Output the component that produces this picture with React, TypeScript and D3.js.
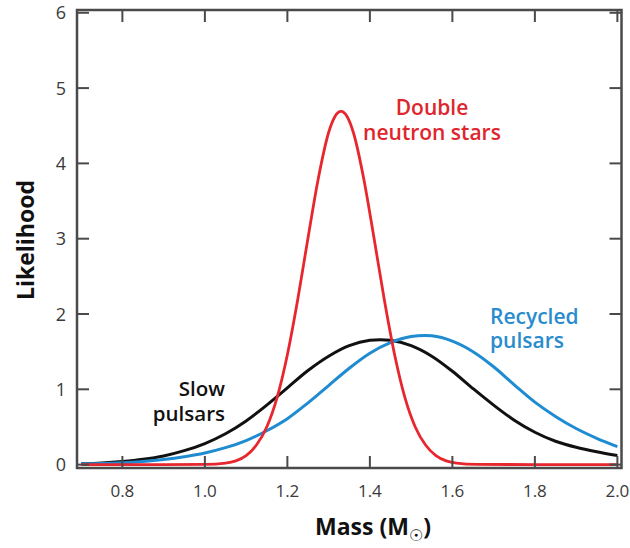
import React from "react";
import * as d3 from "d3";

// Pulsar mass distributions (likelihood vs. mass in solar masses)
const massGrid = [
  0.7, 0.75, 0.8, 0.85, 0.9, 0.95, 1.0, 1.05, 1.1, 1.15, 1.2, 1.25, 1.3, 1.35,
  1.4, 1.45, 1.5, 1.55, 1.6, 1.65, 1.7, 1.75, 1.8, 1.85, 1.9, 1.95, 2.0,
];
const slowPulsars = [
  0.01, 0.02, 0.04, 0.07, 0.115, 0.185, 0.28, 0.41, 0.58, 0.79, 1.02, 1.25,
  1.44, 1.58, 1.65, 1.65, 1.58, 1.44, 1.24, 1.01, 0.79, 0.59, 0.43, 0.31, 0.23,
  0.17, 0.12,
];
const recycledPulsars = [
  0.01, 0.015, 0.025, 0.042, 0.068, 0.105, 0.155, 0.225, 0.32, 0.45, 0.61,
  0.82, 1.05, 1.28, 1.48, 1.62, 1.7, 1.71, 1.64, 1.5, 1.3, 1.06, 0.83, 0.64,
  0.48, 0.35, 0.24,
];
const dnsMass = [
  0.7, 0.9, 1.0, 1.05, 1.075, 1.1, 1.125, 1.15, 1.175, 1.2, 1.225, 1.25, 1.275,
  1.3, 1.315, 1.33, 1.345, 1.36, 1.385, 1.41, 1.435, 1.46, 1.485, 1.51, 1.535,
  1.56, 1.585, 1.61, 1.66, 1.8, 2.0,
];
const doubleNeutronStars = [
  0, 0, 0.003, 0.02, 0.05, 0.12, 0.26, 0.5, 0.89, 1.46, 2.19, 3.01, 3.8, 4.41,
  4.62, 4.69, 4.62, 4.41, 3.8, 3.01, 2.19, 1.46, 0.89, 0.5, 0.26, 0.12, 0.05,
  0.02, 0.003, 0, 0,
];

const xTicks = [0.8, 1.0, 1.2, 1.4, 1.6, 1.8, 2.0];
const yTicks = [0, 1, 2, 3, 4, 5, 6];

const W = 630;
const H = 548;
const left = 77;
const right = 621.5;
const top = 10;
const bottom = 468;

const x = d3.scaleLinear().domain([0.69, 2.01]).range([left, right]);
const y = d3.scaleLinear().domain([-0.045, 6.037]).range([bottom, top]);

const axisColor = "#4a4a4a";
const tickLen = 12;

type Pt = [number, number];
const smoothLine = d3
  .line<Pt>()
  .x((d) => x(d[0]))
  .y((d) => y(d[1]))
  .curve(d3.curveCatmullRom.alpha(0.5));
const peakLine = d3
  .line<Pt>()
  .x((d) => x(d[0]))
  .y((d) => y(d[1]))
  .curve(d3.curveMonotoneX);

const zip = (xs: number[], ys: number[]): Pt[] => xs.map((v, i) => [v, ys[i]]);

export default function App() {
  const font = "'Open Sans', 'DejaVu Sans', sans-serif";
  return (
    <svg
      width={W}
      height={H}
      style={{ position: "absolute", left: 0, top: 0, background: "#fff" }}
      fontFamily={font}
    >
      <rect width={W} height={H} fill="#fff" />

      {/* curves */}
      <path d={smoothLine(zip(massGrid, slowPulsars)) ?? ""} fill="none" stroke="#111" strokeWidth={3} />
      <path d={smoothLine(zip(massGrid, recycledPulsars)) ?? ""} fill="none" stroke="#1f8bd0" strokeWidth={3} />
      <path d={peakLine(zip(dnsMass, doubleNeutronStars)) ?? ""} fill="none" stroke="#e8262e" strokeWidth={2.8} />

      {/* frame */}
      <rect
        x={left}
        y={top}
        width={right - left}
        height={bottom - top}
        fill="none"
        stroke={axisColor}
        strokeWidth={2.5}
      />

      {/* x ticks, bottom and top, pointing inward */}
      {xTicks.map((t) => (
        <g key={"x" + t}>
          <line x1={x(t)} x2={x(t)} y1={bottom} y2={bottom - tickLen} stroke={axisColor} strokeWidth={2} />
          <line x1={x(t)} x2={x(t)} y1={top} y2={top + tickLen} stroke={axisColor} strokeWidth={2} />
          <text x={x(t)} y={497} textAnchor="middle" fontSize={17} fill="#3a3a3a">
            {t.toFixed(1)}
          </text>
        </g>
      ))}

      {/* y ticks, left and right, pointing inward */}
      {yTicks.map((t) => (
        <g key={"y" + t}>
          <line x1={left} x2={left + tickLen} y1={y(t)} y2={y(t)} stroke={axisColor} strokeWidth={2} />
          <line x1={right} x2={right - tickLen} y1={y(t)} y2={y(t)} stroke={axisColor} strokeWidth={2} />
          <text x={66} y={y(t) + 6.5} textAnchor="end" fontSize={18} fill="#3a3a3a">
            {t}
          </text>
        </g>
      ))}

      {/* axis titles */}
      <text x={373} y={535} textAnchor="middle" fontSize={23} fontWeight={700} fill="#111">
        Mass (M
        <tspan fontSize={16} dy={6}>☉</tspan>
        <tspan dy={-6}>)</tspan>
      </text>
      <text
        transform="translate(34,240) rotate(-90)"
        textAnchor="middle"
        fontSize={23}
        fontWeight={700}
        fill="#111"
      >
        Likelihood
      </text>

      {/* series labels */}
      <text fontSize={21} fontWeight={600} fill="#e0252d" textAnchor="middle">
        <tspan x={432} y={115}>Double</tspan>
        <tspan x={432} y={140}>neutron stars</tspan>
      </text>
      <text fontSize={21} fontWeight={600} fill="#2a8ccc" textAnchor="start">
        <tspan x={490} y={324}>Recycled</tspan>
        <tspan x={490} y={348}>pulsars</tspan>
      </text>
      <text fontSize={20.5} fontWeight={600} fill="#111" textAnchor="end">
        <tspan x={225} y={396}>Slow</tspan>
        <tspan x={225} y={421}>pulsars</tspan>
      </text>
    </svg>
  );
}
